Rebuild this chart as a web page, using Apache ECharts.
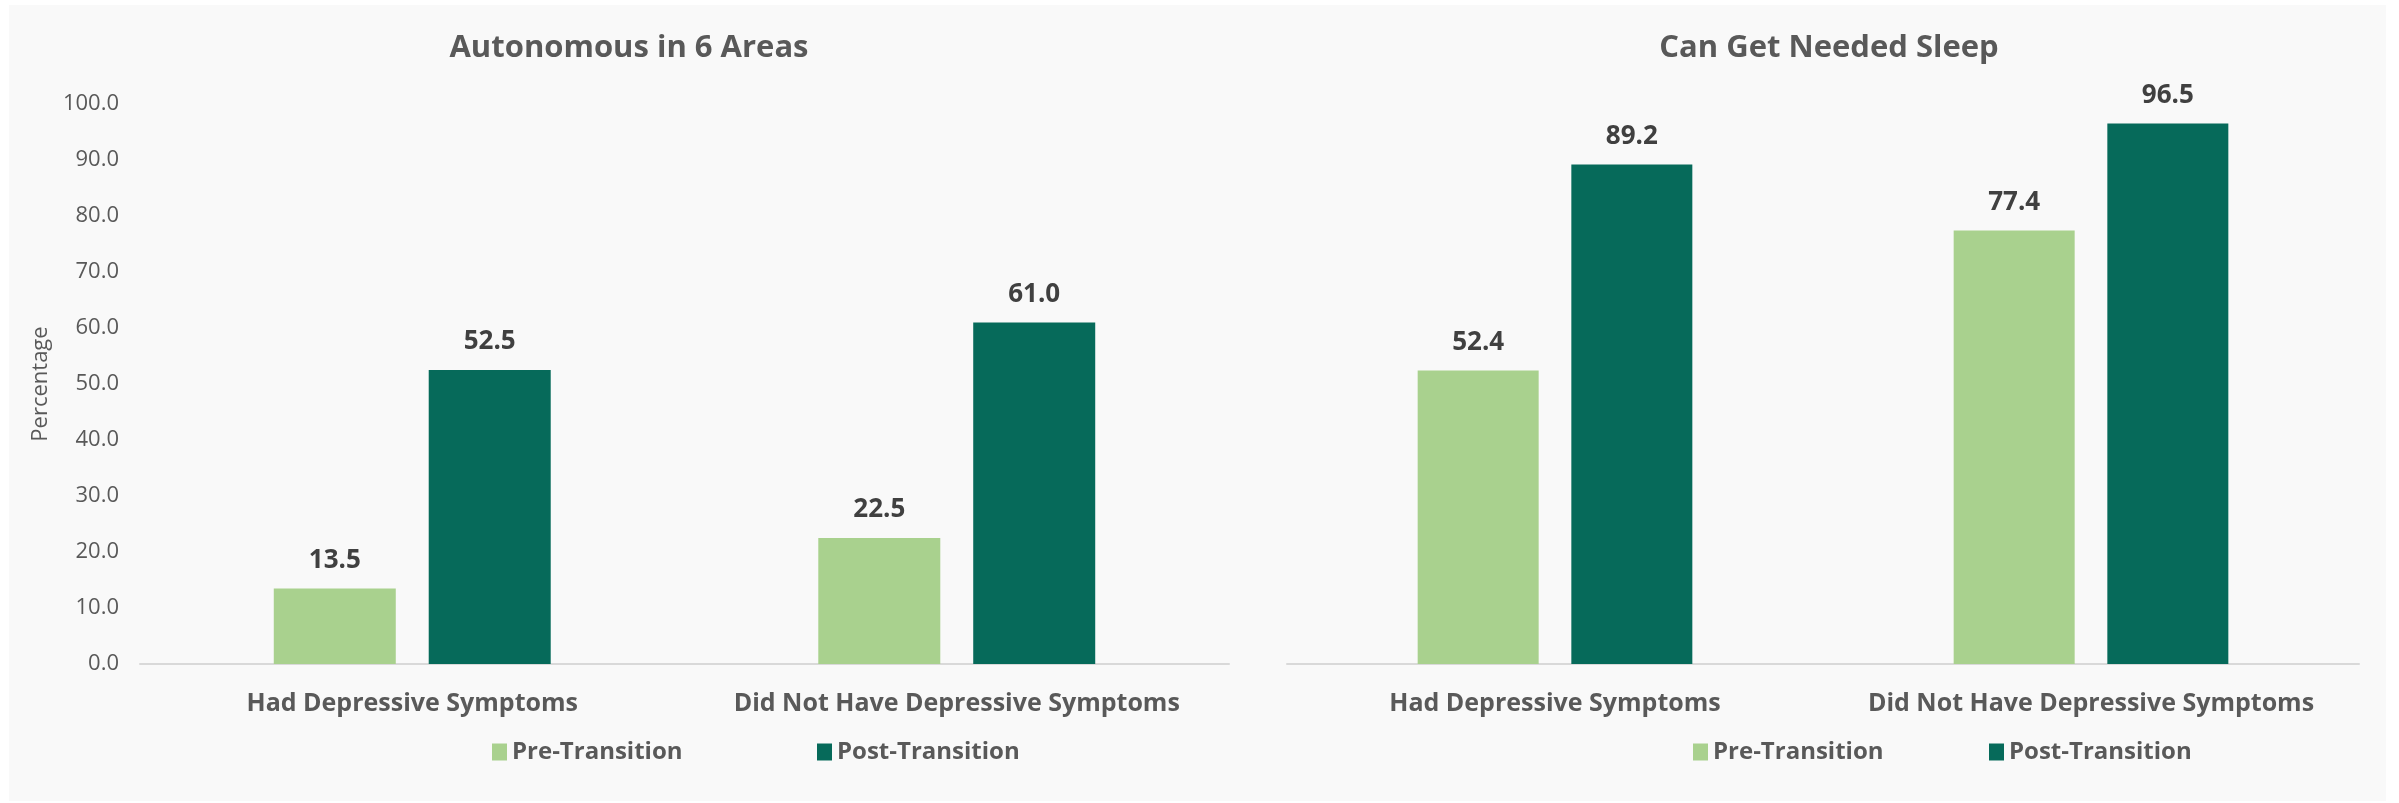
<!DOCTYPE html>
<html>
<head>
<meta charset="utf-8">
<script src="https://cdn.jsdelivr.net/npm/echarts@6/dist/echarts.min.js"></script>
<style>
html,body{margin:0;padding:0;background:#ffffff;}
#c{width:2399px;height:803px;}
</style>
</head>
<body>
<div id="c"></div>
<script>
const categories = ['Had Depressive Symptoms', 'Did Not Have Depressive Symptoms'];
const seriesNames = ['Pre-Transition', 'Post-Transition'];
const autonomousPre = [13.5, 22.5];
const autonomousPost = [52.5, 61.0];
const sleepPre = [52.4, 77.4];
const sleepPost = [89.2, 96.5];
const chartTitles = ['Autonomous in 6 Areas', 'Can Get Needed Sleep'];
const yAxisName = 'Percentage';

const FONT = '"Open Sans", "Noto Sans", sans-serif';
const LIGHT = '#a9d18e';
const DARK = '#066a5a';

const chart = echarts.init(document.getElementById('c'), null, {renderer: 'canvas'});

function makeBar(name, data, xi, color, bw) {
  return {
    type: 'bar', name: name, data: data, xAxisIndex: xi, yAxisIndex: xi,
    barWidth: bw, barGap: '27%',
    itemStyle: {color: color},
    label: {
      show: true, position: 'top', distance: 15,
      formatter: p => p.value.toFixed(1),
      fontFamily: FONT, fontWeight: 'bold', fontSize: 26, color: '#404040'
    },
    emphasis: {disabled: true}
  };
}

const xAxisCommon = {
  type: 'category', data: categories,
  axisLine: {show: true, lineStyle: {color: '#d9d9d9', width: 2}},
  axisTick: {show: false},
  axisLabel: {fontFamily: FONT, fontWeight: 'bold', fontSize: 25, color: '#595959', margin: 27, interval: 0},
  splitLine: {show: false}
};

const legendText = {fontFamily: FONT, fontWeight: 'bold', fontSize: 24, color: '#595959'};
function legend(name, left) {
  return {
    data: [name], left: left, top: 735, itemWidth: 15, itemHeight: 17, itemGap: 8,
    icon: 'rect', textStyle: legendText, selectedMode: false
  };
}

chart.setOption({
  backgroundColor: '#ffffff',
  animation: false,
  graphic: [{
    type: 'rect', z: -10, silent: true,
    shape: {x: 9, y: 5, width: 2377, height: 796},
    style: {fill: '#f9f9f9'}
  }],
  title: [
    {text: chartTitles[0], left: 624, top: 28, textAlign: 'center',
     textStyle: {fontFamily: FONT, fontWeight: 'bold', fontSize: 31, color: '#595959'}},
    {text: chartTitles[1], left: 1824, top: 28, textAlign: 'center',
     textStyle: {fontFamily: FONT, fontWeight: 'bold', fontSize: 31, color: '#595959'}}
  ],
  legend: [
    legend(seriesNames[0], 487),
    legend(seriesNames[1], 812),
    legend(seriesNames[0], 1688),
    legend(seriesNames[1], 1984)
  ],
  grid: [
    {left: 140, right: 2399 - 1229, top: 104, bottom: 803 - 664},
    {left: 1287, right: 2399 - 2359, top: 104, bottom: 803 - 664}
  ],
  xAxis: [
    Object.assign({gridIndex: 0}, xAxisCommon),
    Object.assign({gridIndex: 1}, xAxisCommon)
  ],
  yAxis: [
    {
      gridIndex: 0, type: 'value', min: 0, max: 100, interval: 10,
      name: yAxisName, nameLocation: 'middle', nameGap: 88,
      nameTextStyle: {fontFamily: FONT, fontSize: 22, color: '#595959'},
      axisLine: {show: false}, axisTick: {show: false}, splitLine: {show: false},
      axisLabel: {fontFamily: FONT, fontSize: 22, color: '#595959', margin: 21,
                  formatter: v => v.toFixed(1)}
    },
    {
      gridIndex: 1, type: 'value', min: 0, max: 100, interval: 10,
      axisLine: {show: false}, axisTick: {show: false}, splitLine: {show: false},
      axisLabel: {show: false}
    }
  ],
  series: [
    makeBar(seriesNames[0], autonomousPre, 0, LIGHT, 122),
    makeBar(seriesNames[1], autonomousPost, 0, DARK, 122),
    makeBar(seriesNames[0], sleepPre, 1, LIGHT, 121),
    makeBar(seriesNames[1], sleepPost, 1, DARK, 121)
  ]
});
</script>
</body>
</html>
